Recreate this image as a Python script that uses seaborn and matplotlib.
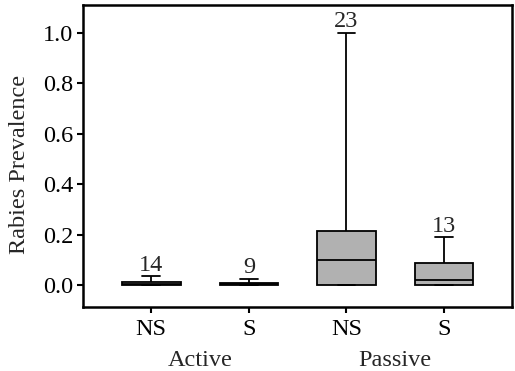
import os
import numpy as np
import pandas as pd
import matplotlib
matplotlib.use("Agg")
import matplotlib.pyplot as plt
import matplotlib.transforms as mtransforms
from matplotlib import font_manager
import seaborn as sns

# rabies prevalence per site (min, quartiles, max)
active_ns = [0, 0, 0, 0, 0, 0, 0.002, 0.006, 0.008, 0.009, 0.010, 0.015, 0.020, 0.035]
active_s = [0, 0, 0, 0.001, 0.002, 0.004, 0.006, 0.012, 0.024]
passive_ns = [0, 0, 0, 0, 0, 0, 0, 0.03, 0.05, 0.06, 0.08, 0.10, 0.12, 0.14,
              0.17, 0.20, 0.21, 0.22, 0.25, 0.33, 0.40, 0.50, 1.0]
passive_s = [0, 0, 0, 0, 0.005, 0.01, 0.02, 0.04, 0.06, 0.088, 0.11, 0.14, 0.19]

groups = ["Active", "Active", "Passive", "Passive"]
status = ["NS", "S", "NS", "S"]
series = [active_ns, active_s, passive_ns, passive_s]
box_colors = ["white", "white", "#b1b1b1", "#b1b1b1"]

rows = []
for g, s, vals in zip(groups, status, series):
    for v in vals:
        rows.append({"cat": g + " " + s, "group": g, "status": s, "value": v})
df = pd.DataFrame(rows)
order = [g + " " + s for g, s in zip(groups, status)]

# Times-like serif
serif_path = "/usr/share/fonts/truetype/liberation/LiberationSerif-Regular.ttf"
family = "Liberation Serif"
if os.path.exists(serif_path):
    font_manager.fontManager.addfont(serif_path)

sns.set_style("ticks")
plt.rcParams["font.family"] = [family, "DejaVu Serif"]
FS = 17.5

fig, ax = plt.subplots(figsize=(5.15, 3.71), dpi=100)
fig.subplots_adjust(left=0.161, right=0.995, top=0.987, bottom=0.173)

sns.boxplot(data=df, x="cat", y="value", hue="cat", order=order, hue_order=order,
            palette=box_colors, saturation=1, width=0.6, whis=(0, 100),
            linecolor="black", linewidth=1.3, legend=False, ax=ax,
            capwidths=0.18)

# n above each whisker
for i, vals in enumerate(series):
    ax.text(i, max(vals) + 0.022, str(len(vals)), ha="center", va="baseline",
            fontsize=FS)

ax.set_xlim(-0.7, 3.7)
ax.set_ylim(-0.087, 1.112)
ax.set_yticks([0, 0.2, 0.4, 0.6, 0.8, 1.0])
ax.set_yticklabels(["0.0", "0.2", "0.4", "0.6", "0.8", "1.0"], fontsize=FS)
ax.set_xticks(range(4))
ax.set_xticklabels(status, fontsize=FS)
ax.set_xlabel("")
ax.set_ylabel("Rabies Prevalence", fontsize=FS)
ax.yaxis.set_label_coords(-0.123, 0.471)

trans = mtransforms.blended_transform_factory(ax.transData, ax.transAxes)
ax.text(0.5, -0.195, "Active", transform=trans, ha="center", va="baseline", fontsize=FS)
ax.text(2.5, -0.195, "Passive", transform=trans, ha="center", va="baseline", fontsize=FS)

for sp in ax.spines.values():
    sp.set_visible(True)
    sp.set_linewidth(1.8)
    sp.set_color("black")
ax.tick_params(axis="both", direction="out", length=4, width=1.5, colors="black")
ax.tick_params(axis="x", pad=5)
ax.tick_params(axis="y", pad=3)

fig.savefig("out.png", dpi=100)
